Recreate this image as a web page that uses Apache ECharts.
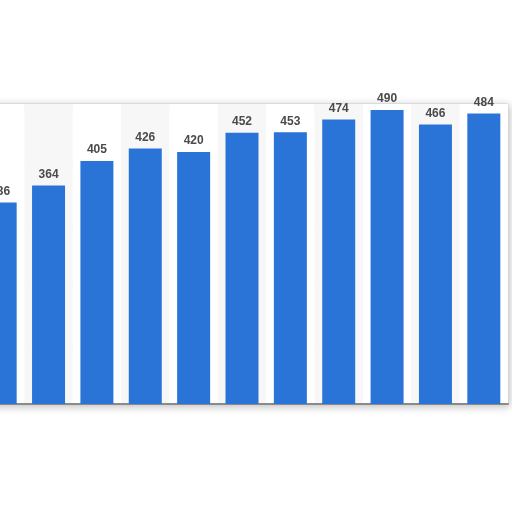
<!DOCTYPE html>
<html>
<head>
<meta charset="utf-8">
<script src="https://cdn.jsdelivr.net/npm/echarts@6/dist/echarts.min.js"></script>
<style>
html,body{margin:0;padding:0;background:#fff;overflow:hidden;width:512px;height:512px;position:relative;}
#c{position:absolute;left:-24px;top:0;width:536px;height:512px;}
</style>
</head>
<body>
<div id="c"></div>
<script>
var categories = ['2012','2013','2014','2015','2016','2017','2018','2019','2020','2021','2022'];
var values = [336, 364, 405, 426, 420, 452, 453, 474, 490, 466, 484];
var yTicks = {min: 0, max: 500, interval: 100};

var chart = echarts.init(document.getElementById('c'), null, {renderer: 'canvas'});
chart.setOption({
  animation: false,
  backgroundColor: '#ffffff',
  grid: {
    left: 0, right: 4, top: 104, bottom: 108,
    show: true,
    backgroundColor: '#ffffff',
    borderColor: '#cfcfcf',
    borderWidth: 1,
    shadowBlur: 8,
    shadowColor: 'rgba(0,0,0,0.25)',
    shadowOffsetX: 1,
    shadowOffsetY: 2
  },
  xAxis: {
    type: 'category',
    data: categories,
    axisLine: {show: true, lineStyle: {color: '#8a8a8a', width: 2}},
    axisTick: {show: false},
    axisLabel: {show: false},
    splitArea: {show: true, areaStyle: {color: ['#ffffff', '#f7f7f7']}}
  },
  yAxis: {
    type: 'value',
    min: yTicks.min, max: yTicks.max, interval: yTicks.interval,
    axisLine: {show: false},
    axisTick: {show: false},
    axisLabel: {show: false},
    splitLine: {show: true, lineStyle: {color: '#d8d8d8', type: 'dotted', width: 1}}
  },
  series: [{
    type: 'bar',
    data: values,
    barWidth: 33,
    itemStyle: {color: '#2a74d8'},
    label: {
      show: true,
      position: 'top',
      distance: 5,
      color: '#4a4a4a',
      fontSize: 12,
      fontWeight: 'bold',
      fontFamily: 'Liberation Sans, Arial, sans-serif'
    }
  }]
});
</script>
</body>
</html>
